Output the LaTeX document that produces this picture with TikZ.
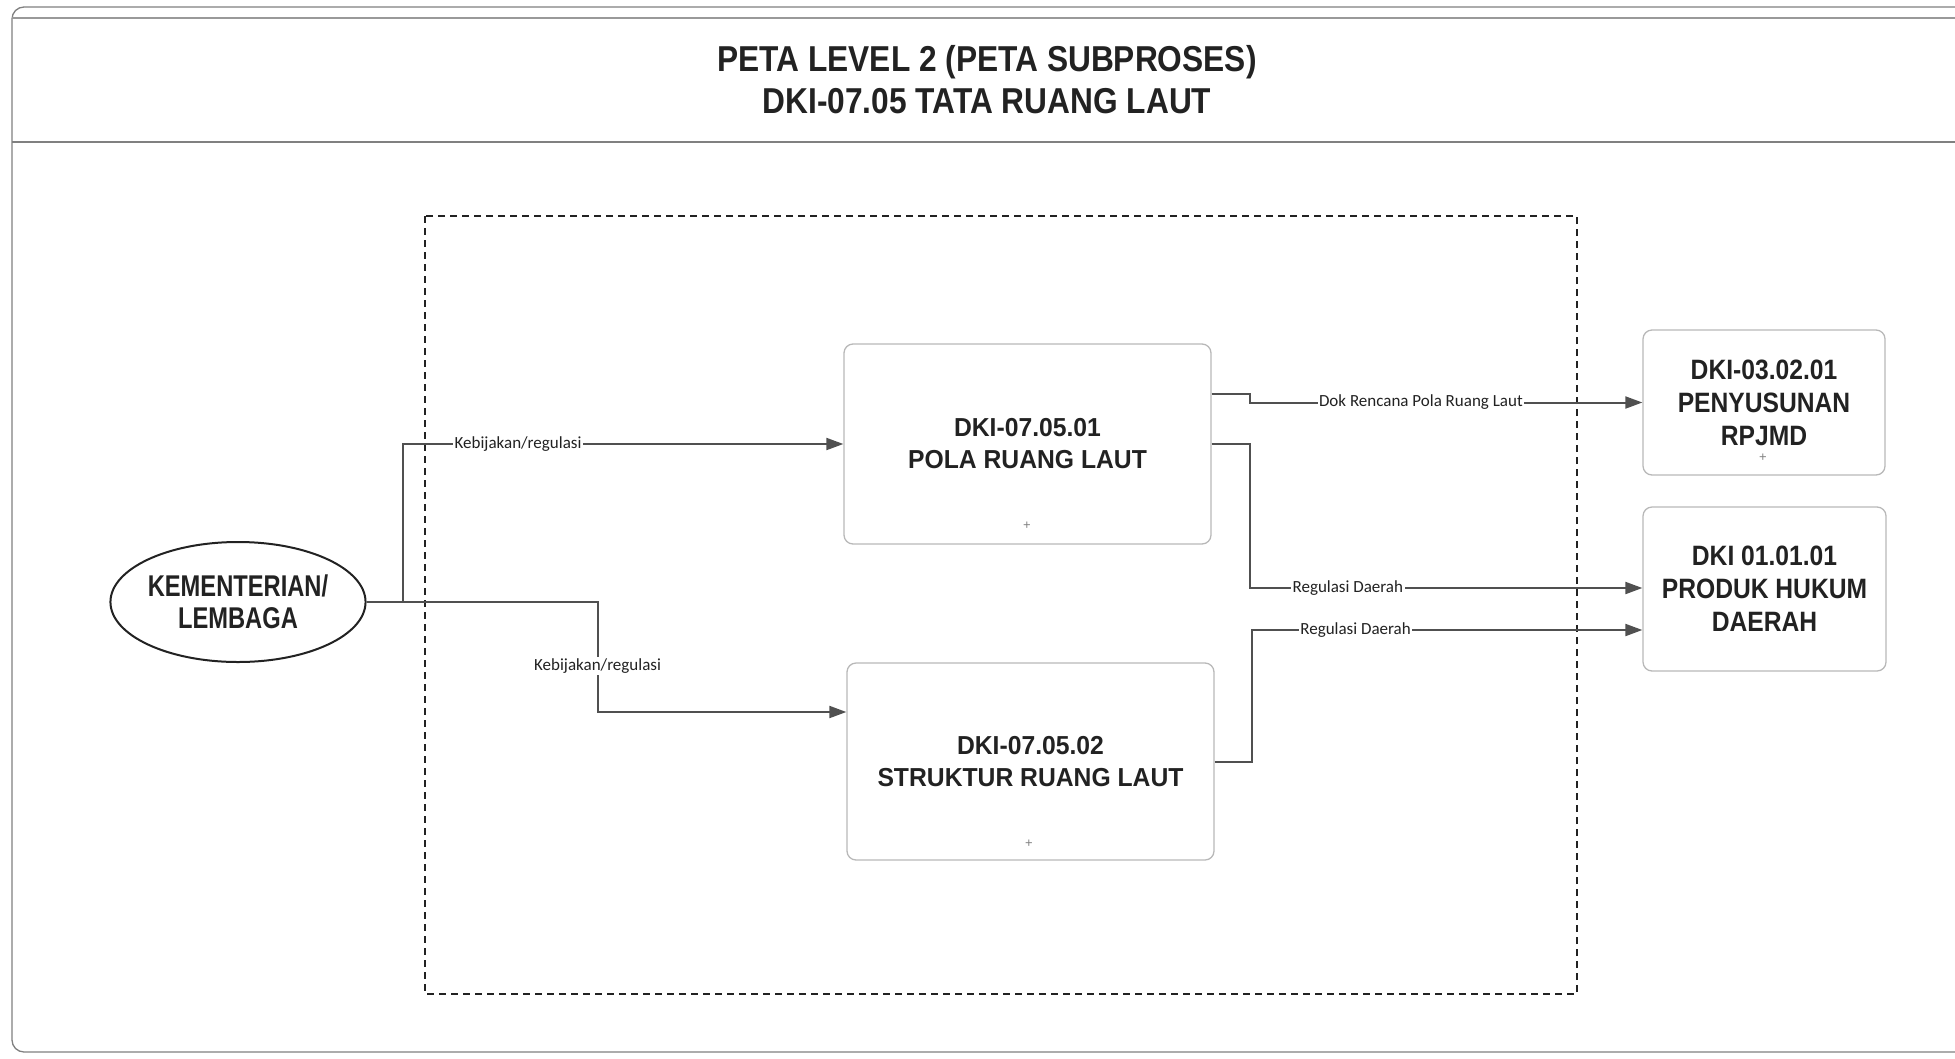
\documentclass[tikz,border=0pt]{standalone}
\usepackage{fontspec}
\setmainfont{Liberation Sans}
\newfontfamily\condf[FakeStretch=0.88]{Liberation Sans}
\newfontfamily\midf[FakeStretch=0.95]{Liberation Sans}
\newfontfamily\narrf[FakeStretch=0.79]{Liberation Sans}
\newfontfamily\lblf{Carlito}
\usetikzlibrary{shapes.geometric,arrows.meta,calc}
\definecolor{linec}{HTML}{505050}
\definecolor{boxc}{HTML}{B8B8B8}
\definecolor{txtc}{HTML}{222222}
\tikzset{
  procbox/.style={draw=boxc, line width=1.3pt, rounded corners=9pt, align=center, text=txtc, inner sep=0pt},
  midtext/.style={font=\midf\bfseries\fontsize{26}{32}\selectfont},
  sidetext/.style={font=\condf\bfseries\fontsize{28}{33}\selectfont},
  conn/.style={draw=linec, line width=2pt, -{Triangle[length=17pt,width=12pt]}},
  lbl/.style={font=\lblf\fontsize{17}{19}\selectfont, fill=white, inner sep=1.5pt, text=txtc},
  tinymark/.style={font=\fontsize{13}{13}\selectfont, text=gray},
}
\begin{document}
\begin{tikzpicture}[x=1pt,y=-1pt]
\useasboundingbox (0,0) rectangle (1955,1058);
% outer frame
\draw[draw=gray, line width=1.3pt, rounded corners=12pt] (12,7) -- (1975,7) -- (1975,1052) -- (12,1052) -- cycle;
\draw[draw=gray!80, line width=1.5pt] (12,18) -- (1955,18);
\draw[draw=gray, line width=2pt] (12,142) -- (1955,142);
% title
\node[font=\condf\bfseries\fontsize{36}{42}\selectfont, text=txtc, align=center] (title) at (987,80)
  {PETA LEVEL 2 (PETA SUBPROSES)\\DKI-07.05 TATA RUANG LAUT};
% dashed area
\draw[draw=txtc, line width=1.2pt, dash pattern=on 7pt off 5pt] (425,216) rectangle (1577,994);
% nodes
\node[procbox, midtext, minimum width=367pt, minimum height=200pt] (pola) at (1027.5,444) {DKI-07.05.01\\POLA RUANG LAUT};
\node[procbox, midtext, minimum width=367pt, minimum height=197pt] (strukt) at (1030.5,761.5) {DKI-07.05.02\\STRUKTUR RUANG LAUT};
\node[procbox, sidetext, minimum width=242pt, minimum height=145pt] (rpjmd) at (1764,402.5) {DKI-03.02.01\\PENYUSUNAN\\RPJMD};
\node[procbox, sidetext, minimum width=243pt, minimum height=164pt] (produk) at (1764.5,589) {DKI 01.01.01\\PRODUK HUKUM\\DAERAH};
\node[draw=txtc, line width=2pt, ellipse, minimum width=254pt, minimum height=120pt, inner sep=0pt, align=center, text=txtc,
  font=\narrf\bfseries\fontsize{30}{32}\selectfont] (kem) at (238,602) {KEMENTERIAN/\\LEMBAGA};
% small marks
\node[tinymark] (m1) at (1027,526) {+};
\node[tinymark] (m2) at (1029,844) {+};
\node[tinymark] (m3) at (1763,458) {+};
% connectors
\draw[conn] (kem.east) -- ++(36,0) |- node[lbl, pos=0.631] {Kebijakan/regulasi} (pola.west);
\draw[conn] (kem.east) -- ++(231,0) |- node[lbl, pos=0.29] {Kebijakan/regulasi} ([yshift=49.5pt]strukt.west);
\draw[conn] ([yshift=50pt]pola.east) -- ++(38,0) |- node[lbl, pos=0.718] {Dok Rencana Pola Ruang Laut} (rpjmd.west);
\draw[conn] (pola.east) -- ++(38,0) |- node[lbl, pos=0.625] {Regulasi Daerah} ([yshift=1pt]produk.west);
\draw[conn] (strukt.east) -- ++(37,0) |- node[lbl, pos=0.633] {Regulasi Daerah} ([yshift=-41pt]produk.west);
\end{tikzpicture}
\end{document}
